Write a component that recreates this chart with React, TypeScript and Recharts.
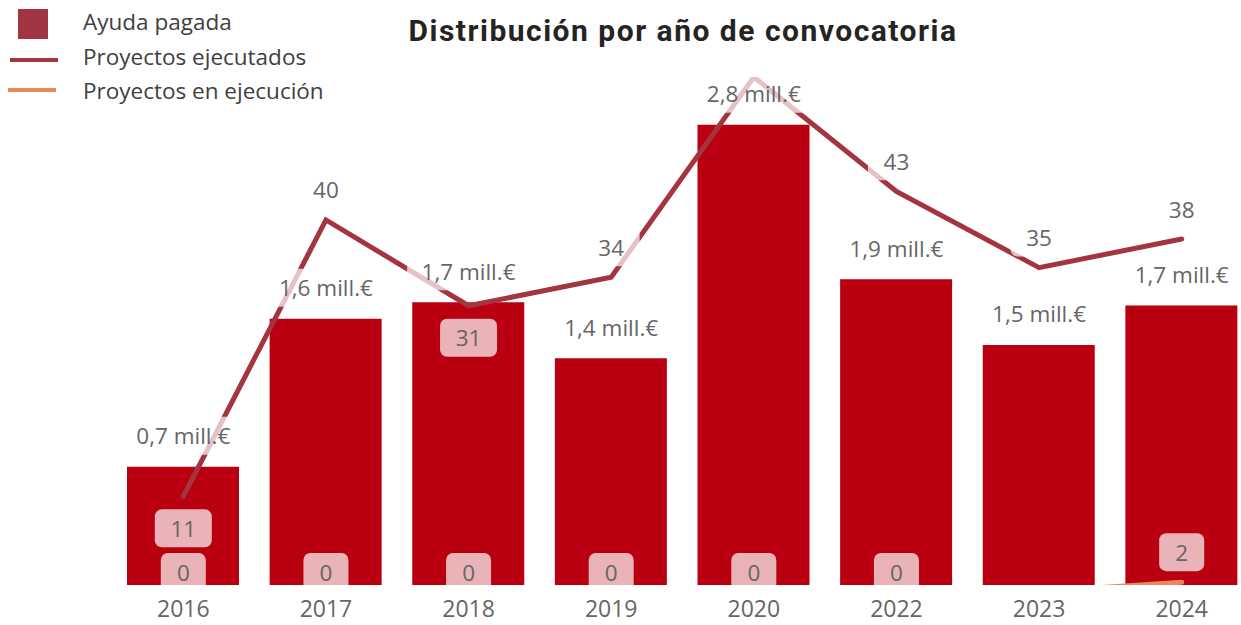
import React from 'react';
import { ComposedChart, Bar, Line, XAxis, YAxis, LabelList, Legend } from 'recharts';

// Data
const years = ['2016', '2017', '2018', '2019', '2020', '2022', '2023', '2024'];
const ayudaPagada = [0.72, 1.62, 1.72, 1.38, 2.8, 1.86, 1.46, 1.7];
const proyectosEjecutados = [11, 40, 31, 34, 55, 43, 35, 38];
const proyectosEnEjecucion: (number | null)[] = [0, 0, 0, 0, 0, 0, null, 2];

// label placement tweaks (Power BI hides / flips some labels)
const ejecutadosHidden = ['2020'];
const ejecutadosBelow = ['2016', '2018'];

const data = years.map((year, i) => ({
  year,
  ayuda: ayudaPagada[i],
  ejecutados: proyectosEjecutados[i],
  enEjecucion: proyectosEnEjecucion[i],
}));

const CHART_W = 1253;
const CHART_H = 625;
const AXIS_H = 40;
const PLOT_BOTTOM = CHART_H - AXIS_H;

const FONT = '"Segoe UI", "Open Sans", sans-serif';
const BAR_COLOR = '#BA0010';
const LINE_COLOR = '#A4343F';
const ORANGE = '#E8875A';
const LABEL_COLOR = '#666666';
const LABEL_SIZE = 22.5;

const formatMill = (v: number) => `${v.toFixed(1).replace('.', ',')} mill.€`;

const getXY = (props: any) => {
  const vb = props.viewBox || {};
  const x = (vb.x ?? props.x) + (vb.width ?? props.width ?? 0) / 2;
  const y = vb.y ?? props.y;
  return { x, y };
};

const LabelBox = ({ cx, cy, text, width, clipId }: { cx: number; cy: number; text: string; width: number; clipId: string }) => (
  <g>
    <defs>
      <clipPath id={clipId}>
        <rect x={0} y={0} width={CHART_W} height={PLOT_BOTTOM} />
      </clipPath>
    </defs>
    <rect
      x={cx - width / 2}
      y={cy - 19}
      width={width}
      height={38}
      rx={7}
      fill="#ffffff"
      fillOpacity={0.7}
      clipPath={`url(#${clipId})`}
    />
    <text
      x={cx}
      y={cy}
      textAnchor="middle"
      dominantBaseline="central"
      fontSize={LABEL_SIZE}
      fontFamily={FONT}
      fill={LABEL_COLOR}
    >
      {text}
    </text>
  </g>
);

const renderAyudaLabel = (props: any) => {
  const { x, y } = getXY(props);
  const text = formatMill(Number(props.value));
  return <LabelBox cx={x} cy={y - 31} text={text} width={text.length * 10.5 + 18} clipId={`ay-${props.index}`} />;
};

const renderEjecutadosLabel = (props: any) => {
  const year = years[props.index];
  if (ejecutadosHidden.includes(year)) return null;
  const { x, y } = getXY(props);
  const text = String(props.value);
  const cy = ejecutadosBelow.includes(year) ? y + 32 : y - 30;
  return <LabelBox cx={x} cy={cy} text={text} width={text.length * 11 + 35} clipId={`ej-${props.index}`} />;
};

const renderEnEjecucionLabel = (props: any) => {
  if (props.value === null || props.value === undefined) return null;
  const { x, y } = getXY(props);
  const text = String(props.value);
  const cy = y >= PLOT_BOTTOM ? PLOT_BOTTOM - 13 : y - 30;
  return <LabelBox cx={x} cy={cy} text={text} width={text.length * 11 + 34} clipId={`ee-${props.index}`} />;
};

const renderLegend = () => (
  <div style={{ fontFamily: FONT, fontSize: 22.5, color: '#404040' }}>
    <div style={{ position: 'absolute', left: 18, top: 9, width: 30, height: 30, background: '#A33443' }} />
    <div style={{ position: 'absolute', left: 83, top: 6, whiteSpace: 'nowrap' }}>Ayuda pagada</div>
    <div style={{ position: 'absolute', left: 10, top: 58, width: 48, height: 4, background: LINE_COLOR }} />
    <div style={{ position: 'absolute', left: 83, top: 41, whiteSpace: 'nowrap' }}>Proyectos ejecutados</div>
    <div style={{ position: 'absolute', left: 8, top: 88, width: 48, height: 4, background: ORANGE }} />
    <div style={{ position: 'absolute', left: 83, top: 75, whiteSpace: 'nowrap' }}>Proyectos en ejecución</div>
  </div>
);

const App: React.FC = () => {
  return (
    <div style={{ position: 'absolute', left: 0, top: 0, width: 1241, height: CHART_H, overflow: 'hidden', background: '#fff' }}>
      <div
        style={{
          position: 'absolute',
          left: 0,
          width: 1366,
          top: 13,
          textAlign: 'center',
          fontFamily: 'Roboto, sans-serif',
          fontWeight: 700,
          fontSize: 30,
          letterSpacing: 1.5,
          color: '#252423',
          zIndex: 2,
        }}
      >
        Distribución por año de convocatoria
      </div>
      <ComposedChart
        width={CHART_W}
        height={CHART_H}
        data={data}
        margin={{ top: 77, right: 0, bottom: 0, left: 112 }}
      >
        <XAxis
          dataKey="year"
          axisLine={false}
          tickLine={false}
          height={AXIS_H}
          tickMargin={10}
          tick={{ fill: LABEL_COLOR, fontSize: 23, fontFamily: FONT }}
        />
        <YAxis yAxisId="bar" hide width={0} domain={[0, 3.09]} allowDataOverflow />
        <YAxis yAxisId="line" hide width={0} domain={[1.7, 55]} allowDataOverflow />
        <Legend
          layout="horizontal"
          verticalAlign="middle"
          align="center"
          content={renderLegend}
          wrapperStyle={{ position: 'absolute', left: 0, top: 0, width: 400, height: 110 }}
        />
        <Bar yAxisId="bar" dataKey="ayuda" fill={BAR_COLOR} barSize={112} isAnimationActive={false} />
        <Line
          yAxisId="line"
          dataKey="ejecutados"
          stroke={LINE_COLOR}
          strokeWidth={5}
          strokeLinecap="round"
          dot={false}
          activeDot={false}
          isAnimationActive={false}
        >
          <LabelList dataKey="ejecutados" content={renderEjecutadosLabel} />
        </Line>
        <Line
          yAxisId="line"
          dataKey="enEjecucion"
          stroke={ORANGE}
          strokeWidth={5}
          strokeLinecap="round"
          connectNulls
          dot={false}
          activeDot={false}
          isAnimationActive={false}
        >
          <LabelList dataKey="enEjecucion" content={renderEnEjecucionLabel} />
        </Line>
        {/* invisible series that only carries the bar value labels, so they sit above the line */}
        <Line
          yAxisId="bar"
          dataKey="ayuda"
          stroke="none"
          dot={false}
          activeDot={false}
          legendType="none"
          isAnimationActive={false}
        >
          <LabelList dataKey="ayuda" content={renderAyudaLabel} />
        </Line>
      </ComposedChart>
    </div>
  );
};

export default App;
